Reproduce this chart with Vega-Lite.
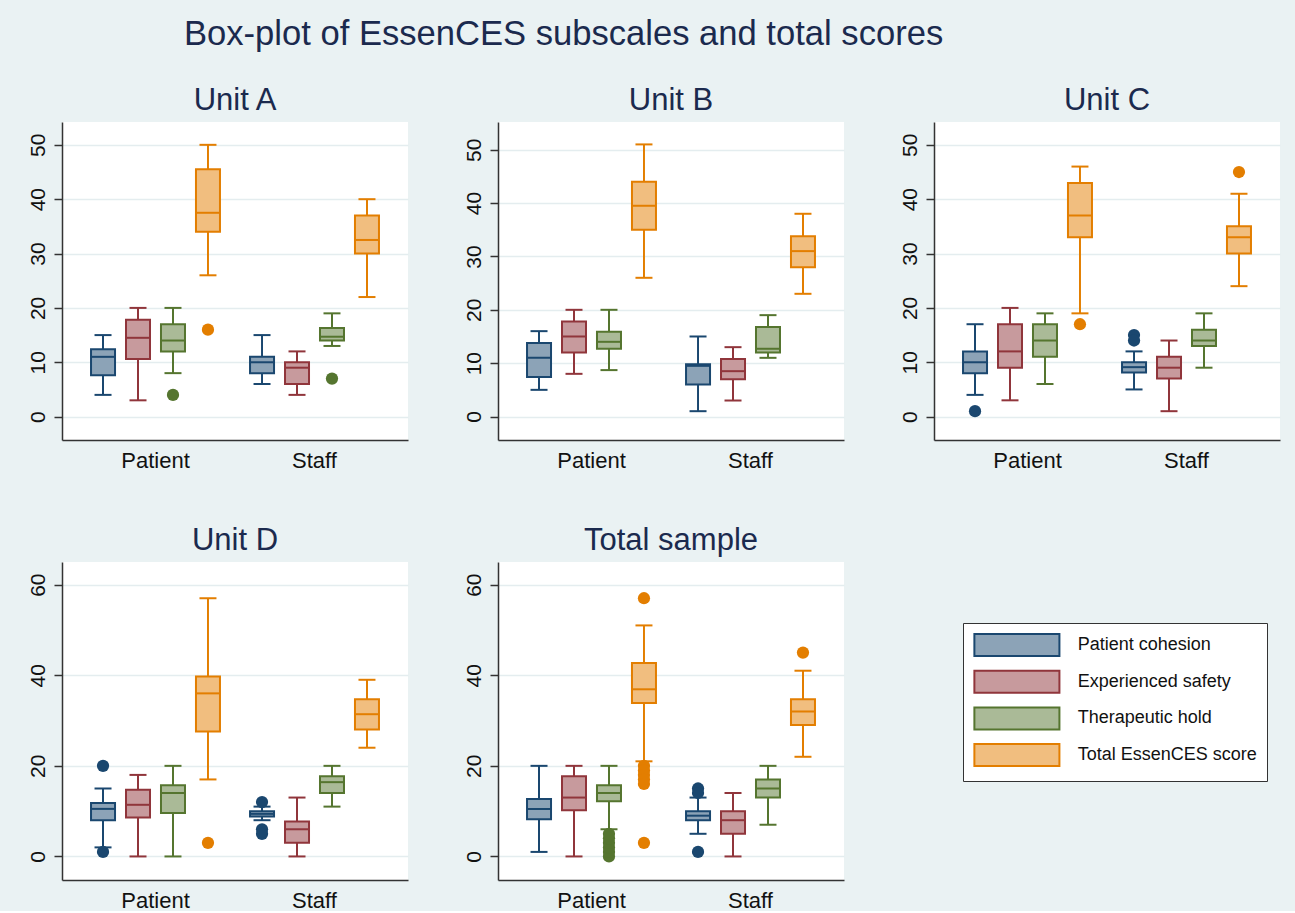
{
"$schema": "https://vega.github.io/schema/vega-lite/v6.json",
"background": "#EAF2F3",
"padding": {"left": 26, "top": 17, "right": 16, "bottom": 0},
"title": {"text": "Box-plot of EssenCES subscales and total scores", "fontSize": 34.6, "anchor": "start", "frame": "group", "dx": 122, "offset": 5, "baseline": "alphabetic", "font": "Liberation Sans", "fontWeight": "normal", "color": "#1B2A4E"},
"datasets": {
"boxes": [
{"panel":"Unit A","group":"Patient","scale":"Patient cohesion","lo":4,"q1":7.6,"med":11,"q3":12.4,"hi":15},
{"panel":"Unit A","group":"Patient","scale":"Experienced safety","lo":3,"q1":10.6,"med":14.5,"q3":17.8,"hi":20},
{"panel":"Unit A","group":"Patient","scale":"Therapeutic hold","lo":8,"q1":12,"med":14,"q3":17,"hi":20},
{"panel":"Unit A","group":"Patient","scale":"Total EssenCES score","lo":26,"q1":34,"med":37.5,"q3":45.5,"hi":50},
{"panel":"Unit A","group":"Staff","scale":"Patient cohesion","lo":6,"q1":8,"med":10,"q3":11,"hi":15},
{"panel":"Unit A","group":"Staff","scale":"Experienced safety","lo":4,"q1":6,"med":9,"q3":10,"hi":12},
{"panel":"Unit A","group":"Staff","scale":"Therapeutic hold","lo":13,"q1":14,"med":14.7,"q3":16.3,"hi":19},
{"panel":"Unit A","group":"Staff","scale":"Total EssenCES score","lo":22,"q1":30,"med":32.5,"q3":37,"hi":40},
{"panel":"Unit B","group":"Patient","scale":"Patient cohesion","lo":5,"q1":7.4,"med":11,"q3":13.8,"hi":16},
{"panel":"Unit B","group":"Patient","scale":"Experienced safety","lo":8,"q1":12,"med":15,"q3":17.8,"hi":20},
{"panel":"Unit B","group":"Patient","scale":"Therapeutic hold","lo":8.7,"q1":12.7,"med":14,"q3":15.9,"hi":20},
{"panel":"Unit B","group":"Patient","scale":"Total EssenCES score","lo":26,"q1":35,"med":39.5,"q3":44,"hi":51},
{"panel":"Unit B","group":"Staff","scale":"Patient cohesion","lo":1,"q1":6,"med":9.5,"q3":9.8,"hi":15},
{"panel":"Unit B","group":"Staff","scale":"Experienced safety","lo":3,"q1":7,"med":8.5,"q3":10.8,"hi":13},
{"panel":"Unit B","group":"Staff","scale":"Therapeutic hold","lo":11,"q1":12,"med":12.7,"q3":16.8,"hi":19},
{"panel":"Unit B","group":"Staff","scale":"Total EssenCES score","lo":23,"q1":28,"med":31,"q3":33.8,"hi":38},
{"panel":"Unit C","group":"Patient","scale":"Patient cohesion","lo":4,"q1":8,"med":10,"q3":12,"hi":17},
{"panel":"Unit C","group":"Patient","scale":"Experienced safety","lo":3,"q1":9,"med":12,"q3":17,"hi":20},
{"panel":"Unit C","group":"Patient","scale":"Therapeutic hold","lo":6,"q1":11,"med":14,"q3":17,"hi":19},
{"panel":"Unit C","group":"Patient","scale":"Total EssenCES score","lo":19,"q1":33,"med":37,"q3":43,"hi":46},
{"panel":"Unit C","group":"Staff","scale":"Patient cohesion","lo":5,"q1":8.1,"med":9.1,"q3":10,"hi":12},
{"panel":"Unit C","group":"Staff","scale":"Experienced safety","lo":1,"q1":7,"med":9,"q3":11,"hi":14},
{"panel":"Unit C","group":"Staff","scale":"Therapeutic hold","lo":9,"q1":13,"med":14,"q3":16,"hi":19},
{"panel":"Unit C","group":"Staff","scale":"Total EssenCES score","lo":24,"q1":30,"med":33,"q3":35,"hi":41},
{"panel":"Unit D","group":"Patient","scale":"Patient cohesion","lo":2,"q1":8,"med":10.5,"q3":11.8,"hi":15},
{"panel":"Unit D","group":"Patient","scale":"Experienced safety","lo":0,"q1":8.6,"med":11.4,"q3":14.7,"hi":18},
{"panel":"Unit D","group":"Patient","scale":"Therapeutic hold","lo":0,"q1":9.6,"med":14,"q3":15.7,"hi":20},
{"panel":"Unit D","group":"Patient","scale":"Total EssenCES score","lo":17,"q1":27.6,"med":36,"q3":39.7,"hi":57},
{"panel":"Unit D","group":"Staff","scale":"Patient cohesion","lo":8,"q1":8.8,"med":9.4,"q3":10,"hi":11},
{"panel":"Unit D","group":"Staff","scale":"Experienced safety","lo":0,"q1":3,"med":6,"q3":7.7,"hi":13},
{"panel":"Unit D","group":"Staff","scale":"Therapeutic hold","lo":11,"q1":14,"med":16.4,"q3":17.7,"hi":20},
{"panel":"Unit D","group":"Staff","scale":"Total EssenCES score","lo":24,"q1":28,"med":31.4,"q3":34.7,"hi":39},
{"panel":"Total sample","group":"Patient","scale":"Patient cohesion","lo":1,"q1":8.2,"med":10.5,"q3":12.7,"hi":20},
{"panel":"Total sample","group":"Patient","scale":"Experienced safety","lo":0,"q1":10.2,"med":13,"q3":17.7,"hi":20},
{"panel":"Total sample","group":"Patient","scale":"Therapeutic hold","lo":6,"q1":12.2,"med":14,"q3":15.7,"hi":20},
{"panel":"Total sample","group":"Patient","scale":"Total EssenCES score","lo":21,"q1":33.9,"med":36.9,"q3":42.7,"hi":51},
{"panel":"Total sample","group":"Staff","scale":"Patient cohesion","lo":5,"q1":8,"med":9,"q3":10,"hi":13},
{"panel":"Total sample","group":"Staff","scale":"Experienced safety","lo":0,"q1":5,"med":8,"q3":10,"hi":14},
{"panel":"Total sample","group":"Staff","scale":"Therapeutic hold","lo":7,"q1":13,"med":15,"q3":17,"hi":20},
{"panel":"Total sample","group":"Staff","scale":"Total EssenCES score","lo":22,"q1":29,"med":32,"q3":34.7,"hi":41}
],
"outliers": [
{"panel":"Unit A","group":"Patient","scale":"Therapeutic hold","value":4},
{"panel":"Unit A","group":"Patient","scale":"Total EssenCES score","value":16},
{"panel":"Unit A","group":"Staff","scale":"Therapeutic hold","value":7},
{"panel":"Unit C","group":"Patient","scale":"Patient cohesion","value":1},
{"panel":"Unit C","group":"Patient","scale":"Total EssenCES score","value":17},
{"panel":"Unit C","group":"Staff","scale":"Patient cohesion","value":15},
{"panel":"Unit C","group":"Staff","scale":"Patient cohesion","value":14},
{"panel":"Unit C","group":"Staff","scale":"Total EssenCES score","value":45},
{"panel":"Unit D","group":"Patient","scale":"Patient cohesion","value":20},
{"panel":"Unit D","group":"Patient","scale":"Patient cohesion","value":1},
{"panel":"Unit D","group":"Patient","scale":"Total EssenCES score","value":3},
{"panel":"Unit D","group":"Staff","scale":"Patient cohesion","value":12},
{"panel":"Unit D","group":"Staff","scale":"Patient cohesion","value":6},
{"panel":"Unit D","group":"Staff","scale":"Patient cohesion","value":5},
{"panel":"Total sample","group":"Patient","scale":"Therapeutic hold","value":0},
{"panel":"Total sample","group":"Patient","scale":"Therapeutic hold","value":1},
{"panel":"Total sample","group":"Patient","scale":"Therapeutic hold","value":2},
{"panel":"Total sample","group":"Patient","scale":"Therapeutic hold","value":3},
{"panel":"Total sample","group":"Patient","scale":"Therapeutic hold","value":4},
{"panel":"Total sample","group":"Patient","scale":"Therapeutic hold","value":5},
{"panel":"Total sample","group":"Patient","scale":"Total EssenCES score","value":57},
{"panel":"Total sample","group":"Patient","scale":"Total EssenCES score","value":20},
{"panel":"Total sample","group":"Patient","scale":"Total EssenCES score","value":19},
{"panel":"Total sample","group":"Patient","scale":"Total EssenCES score","value":18},
{"panel":"Total sample","group":"Patient","scale":"Total EssenCES score","value":17},
{"panel":"Total sample","group":"Patient","scale":"Total EssenCES score","value":16},
{"panel":"Total sample","group":"Patient","scale":"Total EssenCES score","value":3},
{"panel":"Total sample","group":"Staff","scale":"Patient cohesion","value":15},
{"panel":"Total sample","group":"Staff","scale":"Patient cohesion","value":14},
{"panel":"Total sample","group":"Staff","scale":"Patient cohesion","value":1},
{"panel":"Total sample","group":"Staff","scale":"Total EssenCES score","value":45}
]
},
"columns": 3,
"bounds": "flush",
"spacing": {"row": 122, "column": 90},
"concat": [
{
"title": "Unit A", "width": 346, "height": 318,
"encoding": {
 "x": {"field": "group", "type": "nominal", "title": null, "sort": ["Patient","Staff"], "scale": {"paddingInner": 0.12, "paddingOuter": 0.148}, "axis": {"labelAngle": 0, "ticks": false, "labelFontSize": 22, "labelPadding": 10, "labelBaseline": "top", "grid": false, "domainColor": "#333333", "domainWidth": 1.5, "labelColor": "#111111", "labelFont": "Liberation Sans"}},
 "xOffset": {"field": "scale", "type": "nominal", "sort": ["Patient cohesion","Experienced safety","Therapeutic hold","Total EssenCES score"], "scale": {"paddingInner": 0, "paddingOuter": 0}}
},
"layer": [
 {"data": {"name": "boxes"}, "transform": [{"filter": "datum.panel === 'Unit A'"}], "mark": {"type": "rule", "strokeWidth": 2},
  "encoding": {"y": {"field": "lo", "type": "quantitative", "title": null, "scale": {"domain": [-4.3, 54.2], "nice": false, "zero": false}, "axis": {"values": [0,10,20,30,40,50], "labelAngle": -90, "labelAlign": "center", "labelBaseline": "alphabetic", "labelFontSize": 21, "tickSize": 8, "labelPadding": 10, "grid": true, "gridColor": "#E4EDEF", "gridWidth": 1.5, "domainColor": "#333333", "domainWidth": 1.5, "tickColor": "#333333", "tickWidth": 1.5, "labelColor": "#111111", "labelFont": "Liberation Sans"}}, "y2": {"field": "hi"},
   "color": {"field": "scale", "type": "nominal", "scale": {"domain": ["Total EssenCES score","Therapeutic hold","Experienced safety","Patient cohesion"], "range": ["#E37E00","#55752F","#90353B","#1A476F"]}, "legend": null}}},
 {"data": {"name": "boxes"}, "transform": [{"filter": "datum.panel === 'Unit A'"}], "mark": {"type": "tick", "size": 17, "thickness": 2, "opacity": 1},
  "encoding": {"y": {"field": "lo", "type": "quantitative", "title": null}, "color": {"field": "scale", "type": "nominal", "legend": null}}},
 {"data": {"name": "boxes"}, "transform": [{"filter": "datum.panel === 'Unit A'"}], "mark": {"type": "tick", "size": 17, "thickness": 2, "opacity": 1},
  "encoding": {"y": {"field": "hi", "type": "quantitative", "title": null}, "color": {"field": "scale", "type": "nominal", "legend": null}}},
 {"data": {"name": "boxes"}, "transform": [{"filter": "datum.panel === 'Unit A'"}], "mark": {"type": "bar", "width": 24, "strokeWidth": 2},
  "encoding": {"y": {"field": "q1", "type": "quantitative", "title": null}, "y2": {"field": "q3"},
   "fill": {"field": "scale", "type": "nominal", "scale": {"domain": ["Patient cohesion","Experienced safety","Therapeutic hold","Total EssenCES score"], "range": ["#8CA3B7","#C79A9D","#AABA97","#F1BE7F"]}, "legend": {"title": null, "orient": "none", "legendX": 901, "legendY": 501}},
   "stroke": {"field": "scale", "type": "nominal", "scale": {"domain": ["Patient cohesion","Experienced safety","Therapeutic hold","Total EssenCES score"], "range": ["#1A476F","#90353B","#55752F","#E37E00"]}, "legend": {"title": null, "orient": "none", "legendX": 901, "legendY": 501}}}},
 {"data": {"name": "boxes"}, "transform": [{"filter": "datum.panel === 'Unit A'"}], "mark": {"type": "tick", "size": 24, "thickness": 2, "opacity": 1},
  "encoding": {"y": {"field": "med", "type": "quantitative", "title": null}, "color": {"field": "scale", "type": "nominal", "legend": null}}},
 {"data": {"name": "outliers"}, "transform": [{"filter": "datum.panel === 'Unit A'"}], "mark": {"type": "point", "filled": true, "shape": "circle", "size": 150, "opacity": 1},
  "encoding": {"y": {"field": "value", "type": "quantitative", "title": null}, "color": {"field": "scale", "type": "nominal", "legend": null}}}
]
},
{
"title": "Unit B", "width": 346, "height": 318,
"encoding": {
 "x": {"field": "group", "type": "nominal", "title": null, "sort": ["Patient","Staff"], "scale": {"paddingInner": 0.12, "paddingOuter": 0.148}, "axis": {"labelAngle": 0, "ticks": false, "labelFontSize": 22, "labelPadding": 10, "labelBaseline": "top", "grid": false, "domainColor": "#333333", "domainWidth": 1.5, "labelColor": "#111111", "labelFont": "Liberation Sans"}},
 "xOffset": {"field": "scale", "type": "nominal", "sort": ["Patient cohesion","Experienced safety","Therapeutic hold","Total EssenCES score"], "scale": {"paddingInner": 0, "paddingOuter": 0}}
},
"layer": [
 {"data": {"name": "boxes"}, "transform": [{"filter": "datum.panel === 'Unit B'"}], "mark": {"type": "rule", "strokeWidth": 2},
  "encoding": {"y": {"field": "lo", "type": "quantitative", "title": null, "scale": {"domain": [-4.4, 55.2], "nice": false, "zero": false}, "axis": {"values": [0,10,20,30,40,50], "labelAngle": -90, "labelAlign": "center", "labelBaseline": "alphabetic", "labelFontSize": 21, "tickSize": 8, "labelPadding": 10, "grid": true, "gridColor": "#E4EDEF", "gridWidth": 1.5, "domainColor": "#333333", "domainWidth": 1.5, "tickColor": "#333333", "tickWidth": 1.5, "labelColor": "#111111", "labelFont": "Liberation Sans"}}, "y2": {"field": "hi"},
   "color": {"field": "scale", "type": "nominal", "legend": null}}},
 {"data": {"name": "boxes"}, "transform": [{"filter": "datum.panel === 'Unit B'"}], "mark": {"type": "tick", "size": 17, "thickness": 2, "opacity": 1},
  "encoding": {"y": {"field": "lo", "type": "quantitative", "title": null}, "color": {"field": "scale", "type": "nominal", "legend": null}}},
 {"data": {"name": "boxes"}, "transform": [{"filter": "datum.panel === 'Unit B'"}], "mark": {"type": "tick", "size": 17, "thickness": 2, "opacity": 1},
  "encoding": {"y": {"field": "hi", "type": "quantitative", "title": null}, "color": {"field": "scale", "type": "nominal", "legend": null}}},
 {"data": {"name": "boxes"}, "transform": [{"filter": "datum.panel === 'Unit B'"}], "mark": {"type": "bar", "width": 24, "strokeWidth": 2},
  "encoding": {"y": {"field": "q1", "type": "quantitative", "title": null}, "y2": {"field": "q3"},
   "fill": {"field": "scale", "type": "nominal", "legend": {"title": null, "orient": "none", "legendX": 901, "legendY": 501}},
   "stroke": {"field": "scale", "type": "nominal", "legend": {"title": null, "orient": "none", "legendX": 901, "legendY": 501}}}},
 {"data": {"name": "boxes"}, "transform": [{"filter": "datum.panel === 'Unit B'"}], "mark": {"type": "tick", "size": 24, "thickness": 2, "opacity": 1},
  "encoding": {"y": {"field": "med", "type": "quantitative", "title": null}, "color": {"field": "scale", "type": "nominal", "legend": null}}},
 {"data": {"name": "outliers"}, "transform": [{"filter": "datum.panel === 'Unit B'"}], "mark": {"type": "point", "filled": true, "shape": "circle", "size": 150, "opacity": 1},
  "encoding": {"y": {"field": "value", "type": "quantitative", "title": null}, "color": {"field": "scale", "type": "nominal", "legend": null}}}
]
},
{
"title": "Unit C", "width": 346, "height": 318,
"encoding": {
 "x": {"field": "group", "type": "nominal", "title": null, "sort": ["Patient","Staff"], "scale": {"paddingInner": 0.12, "paddingOuter": 0.148}, "axis": {"labelAngle": 0, "ticks": false, "labelFontSize": 22, "labelPadding": 10, "labelBaseline": "top", "grid": false, "domainColor": "#333333", "domainWidth": 1.5, "labelColor": "#111111", "labelFont": "Liberation Sans"}},
 "xOffset": {"field": "scale", "type": "nominal", "sort": ["Patient cohesion","Experienced safety","Therapeutic hold","Total EssenCES score"], "scale": {"paddingInner": 0, "paddingOuter": 0}}
},
"layer": [
 {"data": {"name": "boxes"}, "transform": [{"filter": "datum.panel === 'Unit C'"}], "mark": {"type": "rule", "strokeWidth": 2},
  "encoding": {"y": {"field": "lo", "type": "quantitative", "title": null, "scale": {"domain": [-4.3, 54.2], "nice": false, "zero": false}, "axis": {"values": [0,10,20,30,40,50], "labelAngle": -90, "labelAlign": "center", "labelBaseline": "alphabetic", "labelFontSize": 21, "tickSize": 8, "labelPadding": 10, "grid": true, "gridColor": "#E4EDEF", "gridWidth": 1.5, "domainColor": "#333333", "domainWidth": 1.5, "tickColor": "#333333", "tickWidth": 1.5, "labelColor": "#111111", "labelFont": "Liberation Sans"}}, "y2": {"field": "hi"},
   "color": {"field": "scale", "type": "nominal", "legend": null}}},
 {"data": {"name": "boxes"}, "transform": [{"filter": "datum.panel === 'Unit C'"}], "mark": {"type": "tick", "size": 17, "thickness": 2, "opacity": 1},
  "encoding": {"y": {"field": "lo", "type": "quantitative", "title": null}, "color": {"field": "scale", "type": "nominal", "legend": null}}},
 {"data": {"name": "boxes"}, "transform": [{"filter": "datum.panel === 'Unit C'"}], "mark": {"type": "tick", "size": 17, "thickness": 2, "opacity": 1},
  "encoding": {"y": {"field": "hi", "type": "quantitative", "title": null}, "color": {"field": "scale", "type": "nominal", "legend": null}}},
 {"data": {"name": "boxes"}, "transform": [{"filter": "datum.panel === 'Unit C'"}], "mark": {"type": "bar", "width": 24, "strokeWidth": 2},
  "encoding": {"y": {"field": "q1", "type": "quantitative", "title": null}, "y2": {"field": "q3"},
   "fill": {"field": "scale", "type": "nominal", "legend": {"title": null, "orient": "none", "legendX": 901, "legendY": 501}},
   "stroke": {"field": "scale", "type": "nominal", "legend": {"title": null, "orient": "none", "legendX": 901, "legendY": 501}}}},
 {"data": {"name": "boxes"}, "transform": [{"filter": "datum.panel === 'Unit C'"}], "mark": {"type": "tick", "size": 24, "thickness": 2, "opacity": 1},
  "encoding": {"y": {"field": "med", "type": "quantitative", "title": null}, "color": {"field": "scale", "type": "nominal", "legend": null}}},
 {"data": {"name": "outliers"}, "transform": [{"filter": "datum.panel === 'Unit C'"}], "mark": {"type": "point", "filled": true, "shape": "circle", "size": 150, "opacity": 1},
  "encoding": {"y": {"field": "value", "type": "quantitative", "title": null}, "color": {"field": "scale", "type": "nominal", "legend": null}}}
]
},
{
"title": "Unit D", "width": 346, "height": 318,
"encoding": {
 "x": {"field": "group", "type": "nominal", "title": null, "sort": ["Patient","Staff"], "scale": {"paddingInner": 0.12, "paddingOuter": 0.148}, "axis": {"labelAngle": 0, "ticks": false, "labelFontSize": 22, "labelPadding": 10, "labelBaseline": "top", "grid": false, "domainColor": "#333333", "domainWidth": 1.5, "labelColor": "#111111", "labelFont": "Liberation Sans"}},
 "xOffset": {"field": "scale", "type": "nominal", "sort": ["Patient cohesion","Experienced safety","Therapeutic hold","Total EssenCES score"], "scale": {"paddingInner": 0, "paddingOuter": 0}}
},
"layer": [
 {"data": {"name": "boxes"}, "transform": [{"filter": "datum.panel === 'Unit D'"}], "mark": {"type": "rule", "strokeWidth": 2},
  "encoding": {"y": {"field": "lo", "type": "quantitative", "title": null, "scale": {"domain": [-5.2, 65], "nice": false, "zero": false}, "axis": {"values": [0,20,40,60], "labelAngle": -90, "labelAlign": "center", "labelBaseline": "alphabetic", "labelFontSize": 21, "tickSize": 8, "labelPadding": 10, "grid": true, "gridColor": "#E4EDEF", "gridWidth": 1.5, "domainColor": "#333333", "domainWidth": 1.5, "tickColor": "#333333", "tickWidth": 1.5, "labelColor": "#111111", "labelFont": "Liberation Sans"}}, "y2": {"field": "hi"},
   "color": {"field": "scale", "type": "nominal", "legend": null}}},
 {"data": {"name": "boxes"}, "transform": [{"filter": "datum.panel === 'Unit D'"}], "mark": {"type": "tick", "size": 17, "thickness": 2, "opacity": 1},
  "encoding": {"y": {"field": "lo", "type": "quantitative", "title": null}, "color": {"field": "scale", "type": "nominal", "legend": null}}},
 {"data": {"name": "boxes"}, "transform": [{"filter": "datum.panel === 'Unit D'"}], "mark": {"type": "tick", "size": 17, "thickness": 2, "opacity": 1},
  "encoding": {"y": {"field": "hi", "type": "quantitative", "title": null}, "color": {"field": "scale", "type": "nominal", "legend": null}}},
 {"data": {"name": "boxes"}, "transform": [{"filter": "datum.panel === 'Unit D'"}], "mark": {"type": "bar", "width": 24, "strokeWidth": 2},
  "encoding": {"y": {"field": "q1", "type": "quantitative", "title": null}, "y2": {"field": "q3"},
   "fill": {"field": "scale", "type": "nominal", "legend": {"title": null, "orient": "none", "legendX": 901, "legendY": 501}},
   "stroke": {"field": "scale", "type": "nominal", "legend": {"title": null, "orient": "none", "legendX": 901, "legendY": 501}}}},
 {"data": {"name": "boxes"}, "transform": [{"filter": "datum.panel === 'Unit D'"}], "mark": {"type": "tick", "size": 24, "thickness": 2, "opacity": 1},
  "encoding": {"y": {"field": "med", "type": "quantitative", "title": null}, "color": {"field": "scale", "type": "nominal", "legend": null}}},
 {"data": {"name": "outliers"}, "transform": [{"filter": "datum.panel === 'Unit D'"}], "mark": {"type": "point", "filled": true, "shape": "circle", "size": 150, "opacity": 1},
  "encoding": {"y": {"field": "value", "type": "quantitative", "title": null}, "color": {"field": "scale", "type": "nominal", "legend": null}}}
]
},
{
"title": "Total sample", "width": 346, "height": 318,
"encoding": {
 "x": {"field": "group", "type": "nominal", "title": null, "sort": ["Patient","Staff"], "scale": {"paddingInner": 0.12, "paddingOuter": 0.148}, "axis": {"labelAngle": 0, "ticks": false, "labelFontSize": 22, "labelPadding": 10, "labelBaseline": "top", "grid": false, "domainColor": "#333333", "domainWidth": 1.5, "labelColor": "#111111", "labelFont": "Liberation Sans"}},
 "xOffset": {"field": "scale", "type": "nominal", "sort": ["Patient cohesion","Experienced safety","Therapeutic hold","Total EssenCES score"], "scale": {"paddingInner": 0, "paddingOuter": 0}}
},
"layer": [
 {"data": {"name": "boxes"}, "transform": [{"filter": "datum.panel === 'Total sample'"}], "mark": {"type": "rule", "strokeWidth": 2},
  "encoding": {"y": {"field": "lo", "type": "quantitative", "title": null, "scale": {"domain": [-5.2, 65], "nice": false, "zero": false}, "axis": {"values": [0,20,40,60], "labelAngle": -90, "labelAlign": "center", "labelBaseline": "alphabetic", "labelFontSize": 21, "tickSize": 8, "labelPadding": 10, "grid": true, "gridColor": "#E4EDEF", "gridWidth": 1.5, "domainColor": "#333333", "domainWidth": 1.5, "tickColor": "#333333", "tickWidth": 1.5, "labelColor": "#111111", "labelFont": "Liberation Sans"}}, "y2": {"field": "hi"},
   "color": {"field": "scale", "type": "nominal", "legend": null}}},
 {"data": {"name": "boxes"}, "transform": [{"filter": "datum.panel === 'Total sample'"}], "mark": {"type": "tick", "size": 17, "thickness": 2, "opacity": 1},
  "encoding": {"y": {"field": "lo", "type": "quantitative", "title": null}, "color": {"field": "scale", "type": "nominal", "legend": null}}},
 {"data": {"name": "boxes"}, "transform": [{"filter": "datum.panel === 'Total sample'"}], "mark": {"type": "tick", "size": 17, "thickness": 2, "opacity": 1},
  "encoding": {"y": {"field": "hi", "type": "quantitative", "title": null}, "color": {"field": "scale", "type": "nominal", "legend": null}}},
 {"data": {"name": "boxes"}, "transform": [{"filter": "datum.panel === 'Total sample'"}], "mark": {"type": "bar", "width": 24, "strokeWidth": 2},
  "encoding": {"y": {"field": "q1", "type": "quantitative", "title": null}, "y2": {"field": "q3"},
   "fill": {"field": "scale", "type": "nominal", "legend": {"title": null, "orient": "none", "legendX": 901, "legendY": 501}},
   "stroke": {"field": "scale", "type": "nominal", "legend": {"title": null, "orient": "none", "legendX": 901, "legendY": 501}}}},
 {"data": {"name": "boxes"}, "transform": [{"filter": "datum.panel === 'Total sample'"}], "mark": {"type": "tick", "size": 24, "thickness": 2, "opacity": 1},
  "encoding": {"y": {"field": "med", "type": "quantitative", "title": null}, "color": {"field": "scale", "type": "nominal", "legend": null}}},
 {"data": {"name": "outliers"}, "transform": [{"filter": "datum.panel === 'Total sample'"}], "mark": {"type": "point", "filled": true, "shape": "circle", "size": 150, "opacity": 1},
  "encoding": {"y": {"field": "value", "type": "quantitative", "title": null}, "color": {"field": "scale", "type": "nominal", "legend": null}}}
]
}
],
"config": {
 "font": "Liberation Sans",
 "view": {"fill": "white", "stroke": null},
 "title": {"font": "Liberation Sans", "fontSize": 31, "fontWeight": "normal", "color": "#1B2A4E", "frame": "group", "anchor": "middle", "baseline": "alphabetic", "offset": 5},
 "legend": {"symbolType": "M-4,-1.035H4V1.035H-4Z", "symbolSize": 452, "symbolOffset": 31.9, "labelOffset": 48.75, "symbolStrokeWidth": 2, "labelFontSize": 18, "labelLimit": 300, "labelFont": "Liberation Sans", "labelColor": "#111111", "rowPadding": 4.7, "padding": 10, "fillColor": "white", "strokeColor": "#333333", "symbolOpacity": 1}
}
}
